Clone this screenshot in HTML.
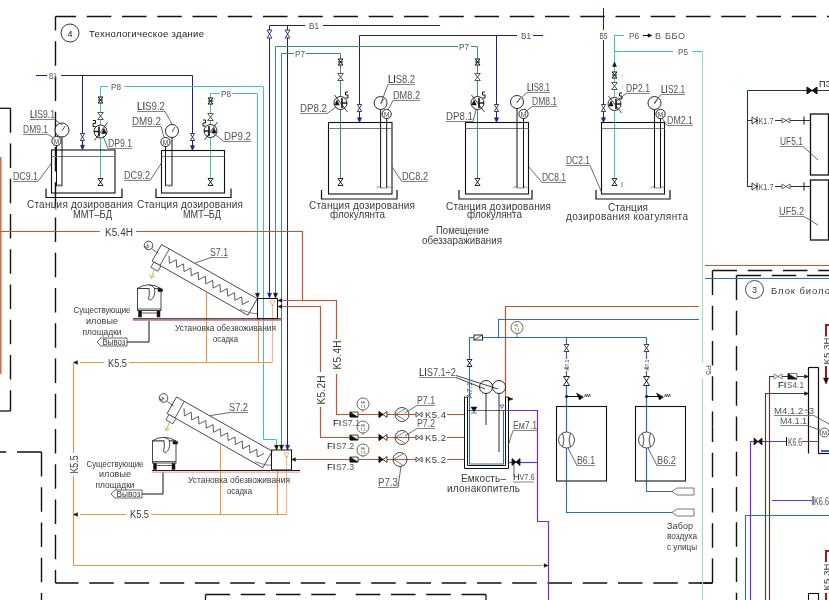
<!DOCTYPE html>
<html><head><meta charset="utf-8"><style>
html,body{margin:0;padding:0;background:#fff;}
svg{display:block;font-family:"Liberation Sans",sans-serif;will-change:transform;}
</style></head><body>
<svg width="829" height="600" viewBox="0 0 829 600">
<rect width="829" height="600" fill="#fff"/>
<line x1="55.5" y1="16.5" x2="829" y2="16.5" stroke="#111" stroke-width="1.4" stroke-dasharray="24.5 10.75" stroke-dashoffset="4"/>
<line x1="55.5" y1="16.5" x2="55.5" y2="583" stroke="#111" stroke-width="1.4" stroke-dasharray="24.5 10.75" stroke-dashoffset="10.4"/>
<line x1="55.5" y1="583" x2="712.5" y2="583" stroke="#111" stroke-width="1.4" stroke-dasharray="24.5 10.75" stroke-dashoffset="1.5"/>
<line x1="700" y1="583" x2="712.5" y2="583" stroke="#111" stroke-width="1.4" />
<line x1="712.5" y1="583" x2="712.5" y2="426.75" stroke="#111" stroke-width="1.4" stroke-dasharray="24.5 10.75" stroke-dashoffset="0"/>
<line x1="712.5" y1="270.5" x2="712.5" y2="426.75" stroke="#111" stroke-width="1.4" stroke-dasharray="24.5 10.75" stroke-dashoffset="0"/>
<line x1="712.5" y1="270.5" x2="829" y2="270.5" stroke="#111" stroke-width="1.4" stroke-dasharray="24.5 10.75" stroke-dashoffset="0"/>
<line x1="736.5" y1="275.5" x2="829" y2="275.5" stroke="#111" stroke-width="1.4" stroke-dasharray="24.5 10.75" stroke-dashoffset="0"/>
<line x1="736.5" y1="275.5" x2="736.5" y2="600" stroke="#111" stroke-width="1.4" stroke-dasharray="24.5 10.75" stroke-dashoffset="0"/>
<line x1="0" y1="108.3" x2="10.5" y2="108.3" stroke="#111" stroke-width="1.3" />
<line x1="10.5" y1="108.3" x2="10.5" y2="411" stroke="#111" stroke-width="1.4" stroke-dasharray="24.5 10.75" stroke-dashoffset="0"/>
<line x1="0" y1="411" x2="10.5" y2="411" stroke="#111" stroke-width="1.3" />
<line x1="41.5" y1="452" x2="0" y2="452" stroke="#111" stroke-width="1.4" stroke-dasharray="24.5 10.75" stroke-dashoffset="0"/>
<line x1="41.5" y1="452" x2="41.5" y2="600" stroke="#111" stroke-width="1.4" stroke-dasharray="24.5 10.75" stroke-dashoffset="0"/>
<line x1="205.5" y1="594.5" x2="345.75" y2="594.5" stroke="#111" stroke-width="1.4" stroke-dasharray="24.5 10.75" stroke-dashoffset="0"/>
<line x1="486" y1="594.5" x2="345.75" y2="594.5" stroke="#111" stroke-width="1.4" stroke-dasharray="24.5 10.75" stroke-dashoffset="0"/>
<line x1="205.5" y1="594.5" x2="205.5" y2="600" stroke="#111" stroke-width="1.3" />
<line x1="486" y1="594.5" x2="486" y2="600" stroke="#111" stroke-width="1.3" />
<circle cx="70" cy="33" r="9" fill="#fff" stroke="#222" stroke-width="0.9"/>
<text x="70" y="36.5" font-size="9" fill="#222" text-anchor="middle" >4</text>
<text x="89" y="37" font-size="9.5" fill="#222" textLength="115" lengthAdjust="spacing" >Технологическое  здание</text>
<line x1="36" y1="75.5" x2="47" y2="75.5" stroke="#1c1c8c" stroke-width="1" />
<text x="49" y="79" font-size="9" fill="#555" textLength="8" lengthAdjust="spacingAndGlyphs" >B1</text>
<line x1="61" y1="75.5" x2="192.5" y2="75.5" stroke="#1c1c8c" stroke-width="1" />
<line x1="82.5" y1="75.5" x2="82.5" y2="147" stroke="#1c1c8c" stroke-width="1" />
<polygon points="80.4,145.2 84.6,145.2 82.5,150" fill="#1c1c8c" stroke="#1c1c8c" stroke-width="0.5" />
<line x1="192.5" y1="75.5" x2="192.5" y2="147" stroke="#1c1c8c" stroke-width="1" />
<polygon points="190.4,145.7 194.6,145.7 192.5,150.5" fill="#1c1c8c" stroke="#1c1c8c" stroke-width="0.5" />
<polygon points="80.3,133.5 84.7,133.5 80.3,140.5 84.7,140.5" fill="#fff" stroke="#2a2a55" stroke-width="0.9" />
<polygon points="190.3,133.5 194.7,133.5 190.3,140.5 194.7,140.5" fill="#fff" stroke="#2a2a55" stroke-width="0.9" />
<line x1="269.5" y1="25.5" x2="305" y2="25.5" stroke="#1c1c8c" stroke-width="1" />
<text x="309" y="29" font-size="9" fill="#555" textLength="10" lengthAdjust="spacingAndGlyphs" >B1</text>
<line x1="323" y1="25.5" x2="440" y2="25.5" stroke="#1c1c8c" stroke-width="1" />
<line x1="269.5" y1="25.5" x2="269.5" y2="294" stroke="#1c1c8c" stroke-width="1" />
<polygon points="267.4,293.2 271.6,293.2 269.5,298" fill="#1c1c8c" stroke="#1c1c8c" stroke-width="0.5" />
<line x1="287.5" y1="25.5" x2="287.5" y2="446" stroke="#1c1c8c" stroke-width="1" />
<polygon points="285.4,445.2 289.6,445.2 287.5,450" fill="#1c1c8c" stroke="#1c1c8c" stroke-width="0.5" />
<polygon points="267,30 272,30 267,38 272,38" fill="#fff" stroke="#2a2a55" stroke-width="0.9" />
<polygon points="285,30 290,30 285,38 290,38" fill="#fff" stroke="#2a2a55" stroke-width="0.9" />
<line x1="359.5" y1="35.5" x2="517" y2="35.5" stroke="#1c1c8c" stroke-width="1" />
<text x="521" y="39" font-size="9" fill="#555" textLength="10" lengthAdjust="spacingAndGlyphs" >B1</text>
<line x1="533" y1="35.5" x2="543" y2="35.5" stroke="#1c1c8c" stroke-width="1" />
<line x1="359.5" y1="35.5" x2="359.5" y2="119" stroke="#1c1c8c" stroke-width="1" />
<polygon points="357.4,117.7 361.6,117.7 359.5,122.5" fill="#1c1c8c" stroke="#1c1c8c" stroke-width="0.5" />
<line x1="496.5" y1="35.5" x2="496.5" y2="119" stroke="#1c1c8c" stroke-width="1" />
<polygon points="494.4,117.7 498.6,117.7 496.5,122.5" fill="#1c1c8c" stroke="#1c1c8c" stroke-width="0.5" />
<polygon points="357.3,104.5 361.7,104.5 357.3,111.5 361.7,111.5" fill="#fff" stroke="#2a2a55" stroke-width="0.9" />
<polygon points="494.3,104.5 498.7,104.5 494.3,111.5 498.7,111.5" fill="#fff" stroke="#2a2a55" stroke-width="0.9" />
<line x1="603.5" y1="8" x2="603.5" y2="119" stroke="#1c1c8c" stroke-width="1" />
<polygon points="601.4,117.7 605.6,117.7 603.5,122.5" fill="#1c1c8c" stroke="#1c1c8c" stroke-width="0.5" />
<polygon points="601.3,104.5 605.7,104.5 601.3,111.5 605.7,111.5" fill="#fff" stroke="#2a2a55" stroke-width="0.9" />
<rect x="599" y="30" width="9" height="10" fill="#fff" stroke="none" stroke-width="0"/>
<text x="603.5" y="39" font-size="8.5" fill="#555" text-anchor="middle" textLength="8" lengthAdjust="spacingAndGlyphs" >B5</text>
<line x1="100.5" y1="86.5" x2="108" y2="86.5" stroke="#3cc8b0" stroke-width="1" />
<text x="111" y="90" font-size="9" fill="#555" textLength="10" lengthAdjust="spacingAndGlyphs" >P8</text>
<line x1="124" y1="86.5" x2="263.5" y2="86.5" stroke="#3cc8b0" stroke-width="1" />
<line x1="263.5" y1="86.5" x2="263.5" y2="439.5" stroke="#3cc8b0" stroke-width="1" />
<polyline points="263.5,439.5 276.5,439.5 276.5,446" fill="none" stroke="#3cc8b0" stroke-width="1" />
<line x1="210.5" y1="93.5" x2="220" y2="93.5" stroke="#3cc8b0" stroke-width="1" />
<text x="221" y="97" font-size="9" fill="#555" textLength="10" lengthAdjust="spacingAndGlyphs" >P8</text>
<line x1="232" y1="93.5" x2="257.5" y2="93.5" stroke="#3cc8b0" stroke-width="1" />
<line x1="257.5" y1="93.5" x2="257.5" y2="294" stroke="#3cc8b0" stroke-width="1" />
<polygon points="255.4,293.2 259.6,293.2 257.5,298" fill="#111" stroke="#111" stroke-width="0.5" />
<polygon points="274.4,445.2 278.6,445.2 276.5,450" fill="#111" stroke="#111" stroke-width="0.5" />
<line x1="100.5" y1="86.5" x2="100.5" y2="182" stroke="#3cc8b0" stroke-width="1" />
<line x1="210.5" y1="93.5" x2="210.5" y2="182" stroke="#3cc8b0" stroke-width="1" />
<line x1="275.5" y1="46.5" x2="458" y2="46.5" stroke="#3a8f74" stroke-width="1" />
<text x="459" y="50" font-size="9" fill="#555" textLength="10" lengthAdjust="spacingAndGlyphs" >P7</text>
<polyline points="471,46.5 477.5,46.5 477.5,182" fill="none" stroke="#3a8f74" stroke-width="1" />
<line x1="281.5" y1="53.5" x2="294" y2="53.5" stroke="#3a8f74" stroke-width="1" />
<text x="295" y="57" font-size="9" fill="#555" textLength="10" lengthAdjust="spacingAndGlyphs" >P7</text>
<polyline points="306,53.5 340.5,53.5 340.5,182" fill="none" stroke="#3a8f74" stroke-width="1" />
<line x1="275.5" y1="46.5" x2="275.5" y2="294" stroke="#3a8f74" stroke-width="1" />
<polygon points="273.4,293.2 277.6,293.2 275.5,298" fill="#111" stroke="#111" stroke-width="0.5" />
<line x1="281.5" y1="53.5" x2="281.5" y2="446" stroke="#3a8f74" stroke-width="1" />
<polygon points="279.4,445.2 283.6,445.2 281.5,450" fill="#111" stroke="#111" stroke-width="0.5" />
<line x1="614.5" y1="35.5" x2="614.5" y2="182" stroke="#40cc90" stroke-width="1" />
<line x1="614.5" y1="35.5" x2="624" y2="35.5" stroke="#40cc90" stroke-width="1" />
<text x="629" y="39" font-size="9" fill="#555" textLength="10" lengthAdjust="spacingAndGlyphs" >P6</text>
<line x1="643" y1="35.5" x2="648" y2="35.5" stroke="#111" stroke-width="1" />
<polygon points="648,33.75 648,37.25 652,35.5" fill="#111" stroke="#111" stroke-width="0.5" />
<text x="655" y="39" font-size="9" fill="#555" textLength="30" lengthAdjust="spacing" >В  ББО</text>
<polygon points="612.54,66.48 616.46,66.48 614.5,62" fill="#111" stroke="#111" stroke-width="0.5" />
<line x1="614.5" y1="51.5" x2="673" y2="51.5" stroke="#40c8a8" stroke-width="1" />
<text x="678" y="55" font-size="9" fill="#555" textLength="10" lengthAdjust="spacingAndGlyphs" >P5</text>
<polyline points="692,51.5 702.5,51.5" fill="none" stroke="#40c8a8" stroke-width="1" />
<line x1="702.5" y1="51.5" x2="702.5" y2="600" stroke="#98e8c0" stroke-width="1.2"/>
<rect x="698" y="362" width="9" height="16" fill="#fff" stroke="none" stroke-width="0"/>
<text x="706" y="370" font-size="8" fill="#555" text-anchor="middle" transform="rotate(90 706 370)" >P5</text>
<rect x="51.5" y="150" width="63.5" height="43" fill="none" stroke="#111" stroke-width="1.1"/>
<line x1="51.5" y1="156.5" x2="115" y2="156.5" stroke="#777" stroke-width="1" />
<polyline points="46,188.5 46,197.5 122,197.5 122,188.5" fill="none" stroke="#111" stroke-width="1.2" />
<rect x="161.5" y="150.5" width="63" height="42.5" fill="none" stroke="#111" stroke-width="1.1"/>
<line x1="161.5" y1="156.5" x2="224.5" y2="156.5" stroke="#777" stroke-width="1" />
<polyline points="156,188.5 156,197.5 231,197.5 231,188.5" fill="none" stroke="#111" stroke-width="1.2" />
<rect x="328.5" y="122.5" width="63.5" height="71.5" fill="none" stroke="#111" stroke-width="1.1"/>
<line x1="328.5" y1="128.5" x2="392" y2="128.5" stroke="#777" stroke-width="1" />
<polyline points="321.5,190 321.5,199 397,199 397,190" fill="none" stroke="#111" stroke-width="1.2" />
<rect x="465.5" y="122.5" width="63" height="71.5" fill="none" stroke="#111" stroke-width="1.1"/>
<line x1="465.5" y1="128.5" x2="528.5" y2="128.5" stroke="#777" stroke-width="1" />
<polyline points="459,190 459,199 532,199 532,190" fill="none" stroke="#111" stroke-width="1.2" />
<rect x="601.5" y="122.5" width="63" height="71.5" fill="none" stroke="#111" stroke-width="1.1"/>
<line x1="601.5" y1="128.5" x2="664.5" y2="128.5" stroke="#777" stroke-width="1" />
<polyline points="596,190 596,199 670,199 670,190" fill="none" stroke="#111" stroke-width="1.2" />
<line x1="62" y1="130" x2="62" y2="186" stroke="#111" stroke-width="1" />
<line x1="56.5" y1="141" x2="56.5" y2="186" stroke="#111" stroke-width="1" />
<circle cx="62" cy="130" r="7" fill="#fff" stroke="#111" stroke-width="0.9"/>
<line x1="62" y1="131" x2="65" y2="126" stroke="#111" stroke-width="0.7" />
<circle cx="56.5" cy="141" r="4.6" fill="#fff" stroke="#111" stroke-width="0.9"/>
<text x="56.5" y="143.6" font-size="6.5" fill="#3a3a3a" text-anchor="middle" >M</text>
<polyline points="58,186 60,184.5 62,186 56.5,186 58.5,184.5 60.5,186" fill="none" stroke="#444" stroke-width="0.6" />
<line x1="172" y1="131" x2="172" y2="186" stroke="#111" stroke-width="1" />
<line x1="165.5" y1="142" x2="165.5" y2="186" stroke="#111" stroke-width="1" />
<circle cx="172" cy="131" r="6.5" fill="#fff" stroke="#111" stroke-width="0.9"/>
<line x1="172" y1="132" x2="175" y2="127" stroke="#111" stroke-width="0.7" />
<circle cx="165.5" cy="142" r="4.6" fill="#fff" stroke="#111" stroke-width="0.9"/>
<text x="165.5" y="144.6" font-size="6.5" fill="#3a3a3a" text-anchor="middle" >M</text>
<polyline points="168,186 170,184.5 172,186 165.5,186 167.5,184.5 169.5,186" fill="none" stroke="#444" stroke-width="0.6" />
<line x1="380.6" y1="103" x2="380.6" y2="188" stroke="#111" stroke-width="1" />
<line x1="386.7" y1="114" x2="386.7" y2="188" stroke="#111" stroke-width="1" />
<circle cx="380.6" cy="103" r="6.5" fill="#fff" stroke="#111" stroke-width="0.9"/>
<line x1="380.6" y1="104" x2="383.6" y2="99" stroke="#111" stroke-width="0.7" />
<circle cx="386.7" cy="114" r="4.6" fill="#fff" stroke="#111" stroke-width="0.9"/>
<text x="386.7" y="116.6" font-size="6.5" fill="#3a3a3a" text-anchor="middle" >M</text>
<polyline points="376.6,188 378.6,186.5 380.6,188 386.7,188 388.7,186.5 390.7,188" fill="none" stroke="#444" stroke-width="0.6" />
<line x1="517" y1="102" x2="517" y2="188" stroke="#111" stroke-width="1" />
<line x1="523.5" y1="114" x2="523.5" y2="188" stroke="#111" stroke-width="1" />
<circle cx="517" cy="102" r="6.5" fill="#fff" stroke="#111" stroke-width="0.9"/>
<line x1="517" y1="103" x2="520" y2="98" stroke="#111" stroke-width="0.7" />
<circle cx="523.5" cy="114" r="4.6" fill="#fff" stroke="#111" stroke-width="0.9"/>
<text x="523.5" y="116.6" font-size="6.5" fill="#3a3a3a" text-anchor="middle" >M</text>
<polyline points="513,188 515,186.5 517,188 523.5,188 525.5,186.5 527.5,188" fill="none" stroke="#444" stroke-width="0.6" />
<line x1="654.5" y1="103" x2="654.5" y2="188" stroke="#111" stroke-width="1" />
<line x1="660.5" y1="114" x2="660.5" y2="188" stroke="#111" stroke-width="1" />
<circle cx="654.5" cy="103" r="6.5" fill="#fff" stroke="#111" stroke-width="0.9"/>
<line x1="654.5" y1="104" x2="657.5" y2="99" stroke="#111" stroke-width="0.7" />
<circle cx="660.5" cy="114" r="4.6" fill="#fff" stroke="#111" stroke-width="0.9"/>
<text x="660.5" y="116.6" font-size="6.5" fill="#3a3a3a" text-anchor="middle" >M</text>
<polyline points="650.5,188 652.5,186.5 654.5,188 660.5,188 662.5,186.5 664.5,188" fill="none" stroke="#444" stroke-width="0.6" />
<polygon points="98,178.5 103,178.5 98,185.5 103,185.5" fill="#fff" stroke="#111" stroke-width="0.9" />
<polygon points="208,178.5 213,178.5 208,185.5 213,185.5" fill="#fff" stroke="#111" stroke-width="0.9" />
<polygon points="338,178.5 343,178.5 338,185.5 343,185.5" fill="#fff" stroke="#111" stroke-width="0.9" />
<polygon points="475,178.5 480,178.5 475,185.5 480,185.5" fill="#fff" stroke="#111" stroke-width="0.9" />
<polygon points="612,178.5 617,178.5 612,185.5 617,185.5" fill="#fff" stroke="#111" stroke-width="0.9" />
<text x="621" y="187" font-size="7" fill="#3c3" font-weight="bold">i</text>
<text x="621.5" y="78" font-size="6" fill="#5c5" >i</text>
<text x="621.5" y="89" font-size="6" fill="#5c5" >i</text>
<circle cx="100.5" cy="131.5" r="6.5" fill="#fff" stroke="#111" stroke-width="0.9"/>
<line x1="99" y1="126.5" x2="99" y2="136.5" stroke="#111" stroke-width="1.6" />
<line x1="99" y1="131.5" x2="94" y2="131.5" stroke="#111" stroke-width="1.4" />
<polygon points="101.7,133.5 106.3,133.5 104,128.5" fill="#111" stroke="#111" stroke-width="0.5" />
<line x1="94.5" y1="140.5" x2="107.5" y2="122.5" stroke="#111" stroke-width="0.8" />
<polyline points="95.5,126.5 93,126.5 93,123.5 95.5,123.5 95.5,120.5 93,120.5" fill="none" stroke="#111" stroke-width="1" />
<circle cx="210.5" cy="131" r="6.5" fill="#fff" stroke="#111" stroke-width="0.9"/>
<line x1="209" y1="126" x2="209" y2="136" stroke="#111" stroke-width="1.6" />
<line x1="209" y1="131" x2="204" y2="131" stroke="#111" stroke-width="1.4" />
<polygon points="211.7,133 216.3,133 214,128" fill="#111" stroke="#111" stroke-width="0.5" />
<line x1="204.5" y1="140" x2="217.5" y2="122" stroke="#111" stroke-width="0.8" />
<polyline points="205.5,126 203,126 203,123 205.5,123 205.5,120 203,120" fill="none" stroke="#111" stroke-width="1" />
<circle cx="340.5" cy="103" r="6.5" fill="#fff" stroke="#111" stroke-width="0.9"/>
<line x1="342" y1="98" x2="342" y2="108" stroke="#111" stroke-width="1.6" />
<line x1="342" y1="103" x2="347" y2="103" stroke="#111" stroke-width="1.4" />
<polygon points="339.3,105 334.7,105 337,100" fill="#111" stroke="#111" stroke-width="0.5" />
<line x1="334.5" y1="95" x2="347.5" y2="112" stroke="#111" stroke-width="0.8" />
<polyline points="345.5,98 348,98 348,95 345.5,95 345.5,92 348,92" fill="none" stroke="#111" stroke-width="1" />
<circle cx="477.5" cy="103" r="6.5" fill="#fff" stroke="#111" stroke-width="0.9"/>
<line x1="479" y1="98" x2="479" y2="108" stroke="#111" stroke-width="1.6" />
<line x1="479" y1="103" x2="484" y2="103" stroke="#111" stroke-width="1.4" />
<polygon points="476.3,105 471.7,105 474,100" fill="#111" stroke="#111" stroke-width="0.5" />
<line x1="471.5" y1="95" x2="484.5" y2="112" stroke="#111" stroke-width="0.8" />
<polyline points="482.5,98 485,98 485,95 482.5,95 482.5,92 485,92" fill="none" stroke="#111" stroke-width="1" />
<circle cx="614.5" cy="104" r="6.5" fill="#fff" stroke="#111" stroke-width="0.9"/>
<line x1="616" y1="99" x2="616" y2="109" stroke="#111" stroke-width="1.6" />
<line x1="616" y1="104" x2="621" y2="104" stroke="#111" stroke-width="1.4" />
<polygon points="613.3,106 608.7,106 611,101" fill="#111" stroke="#111" stroke-width="0.5" />
<line x1="608.5" y1="96" x2="621.5" y2="113" stroke="#111" stroke-width="0.8" />
<polyline points="619.5,99 622,99 622,96 619.5,96 619.5,93 622,93" fill="none" stroke="#111" stroke-width="1" />
<polygon points="98,97 103,97 98,103 103,103" fill="#fff" stroke="#111" stroke-width="1" />
<line x1="98" y1="100" x2="103" y2="100" stroke="#111" stroke-width="1" />
<polygon points="208,98 213,98 208,104 213,104" fill="#fff" stroke="#111" stroke-width="1" />
<line x1="208" y1="101" x2="213" y2="101" stroke="#111" stroke-width="1" />
<polygon points="338,59 343,59 338,65 343,65" fill="#fff" stroke="#111" stroke-width="1" />
<line x1="338" y1="62" x2="343" y2="62" stroke="#111" stroke-width="1" />
<polygon points="475,59 480,59 475,65 480,65" fill="#fff" stroke="#111" stroke-width="1" />
<line x1="475" y1="62" x2="480" y2="62" stroke="#111" stroke-width="1" />
<polygon points="612,72 617,72 612,78 617,78" fill="#fff" stroke="#111" stroke-width="1" />
<line x1="612" y1="75" x2="617" y2="75" stroke="#111" stroke-width="1" />
<polygon points="97.7,112.5 103.3,112.5 97.7,119.5 103.3,119.5" fill="#fff" stroke="#444" stroke-width="0.9" />
<polygon points="207.7,113.5 213.3,113.5 207.7,120.5 213.3,120.5" fill="#fff" stroke="#444" stroke-width="0.9" />
<polygon points="337.7,73.5 343.3,73.5 337.7,80.5 343.3,80.5" fill="#fff" stroke="#444" stroke-width="0.9" />
<polygon points="474.7,73.5 480.3,73.5 474.7,80.5 480.3,80.5" fill="#fff" stroke="#444" stroke-width="0.9" />
<polygon points="611.7,82.5 617.3,82.5 611.7,89.5 617.3,89.5" fill="#fff" stroke="#444" stroke-width="0.9" />
<text x="30" y="117.5" font-size="10" fill="#555" textLength="25" lengthAdjust="spacingAndGlyphs"><tspan fill="#111">LI</tspan>S9.1</text>
<line x1="30" y1="119.5" x2="55" y2="119.5" stroke="#666" stroke-width="0.8" />
<polyline points="55,119.5 62,125" fill="none" stroke="#444" stroke-width="0.8" />
<text x="23" y="132.5" font-size="10" fill="#555" textLength="25" lengthAdjust="spacingAndGlyphs" >DM9.1</text>
<line x1="23" y1="134.5" x2="48" y2="134.5" stroke="#666" stroke-width="0.8" />
<polyline points="48,134.5 54,138" fill="none" stroke="#444" stroke-width="0.8" />
<text x="13" y="179.5" font-size="10" fill="#555" textLength="25" lengthAdjust="spacingAndGlyphs" >DC9.1</text>
<line x1="13" y1="181.5" x2="38" y2="181.5" stroke="#666" stroke-width="0.8" />
<polyline points="38,181.5 51.5,163" fill="none" stroke="#444" stroke-width="0.8" />
<text x="108" y="146.5" font-size="10" fill="#555" textLength="24" lengthAdjust="spacingAndGlyphs" >DP9.1</text>
<line x1="108" y1="148.5" x2="132" y2="148.5" stroke="#666" stroke-width="0.8" />
<polyline points="108,148.5 103,136" fill="none" stroke="#444" stroke-width="0.8" />
<text x="137" y="109.5" font-size="10" fill="#555" textLength="28" lengthAdjust="spacingAndGlyphs"><tspan fill="#111">LI</tspan>S9.2</text>
<line x1="137" y1="111.5" x2="165" y2="111.5" stroke="#666" stroke-width="0.8" />
<polyline points="165,111.5 172,124" fill="none" stroke="#444" stroke-width="0.8" />
<text x="132" y="124.5" font-size="10" fill="#555" textLength="29" lengthAdjust="spacingAndGlyphs" >DM9.2</text>
<line x1="132" y1="126.5" x2="161" y2="126.5" stroke="#666" stroke-width="0.8" />
<polyline points="161,126.5 164,137" fill="none" stroke="#444" stroke-width="0.8" />
<text x="124" y="178.5" font-size="10" fill="#555" textLength="26" lengthAdjust="spacingAndGlyphs" >DC9.2</text>
<line x1="124" y1="180.5" x2="150" y2="180.5" stroke="#666" stroke-width="0.8" />
<polyline points="150,180.5 161.5,163" fill="none" stroke="#444" stroke-width="0.8" />
<text x="224" y="139.5" font-size="10" fill="#555" textLength="27" lengthAdjust="spacingAndGlyphs" >DP9.2</text>
<line x1="224" y1="141.5" x2="251" y2="141.5" stroke="#666" stroke-width="0.8" />
<polyline points="224,141.5 213,133" fill="none" stroke="#444" stroke-width="0.8" />
<text x="388" y="82.5" font-size="10" fill="#555" textLength="27" lengthAdjust="spacingAndGlyphs"><tspan fill="#111">LI</tspan>S8.2</text>
<line x1="388" y1="84.5" x2="415" y2="84.5" stroke="#666" stroke-width="0.8" />
<polyline points="388,84.5 381,103" fill="none" stroke="#444" stroke-width="0.8" />
<text x="393" y="98.5" font-size="10" fill="#555" textLength="27" lengthAdjust="spacingAndGlyphs" >DM8.2</text>
<line x1="393" y1="100.5" x2="420" y2="100.5" stroke="#666" stroke-width="0.8" />
<polyline points="393,100.5 388,110" fill="none" stroke="#444" stroke-width="0.8" />
<text x="300" y="111.5" font-size="10" fill="#555" textLength="27" lengthAdjust="spacingAndGlyphs" >DP8.2</text>
<line x1="300" y1="113.5" x2="327" y2="113.5" stroke="#666" stroke-width="0.8" />
<polyline points="327,113.5 336,107" fill="none" stroke="#444" stroke-width="0.8" />
<text x="402" y="179.5" font-size="10" fill="#555" textLength="26" lengthAdjust="spacingAndGlyphs" >DC8.2</text>
<line x1="402" y1="181.5" x2="428" y2="181.5" stroke="#666" stroke-width="0.8" />
<polyline points="402,181.5 392,167" fill="none" stroke="#444" stroke-width="0.8" />
<text x="527" y="90.5" font-size="10" fill="#555" textLength="23" lengthAdjust="spacingAndGlyphs"><tspan fill="#111">LI</tspan>S8.1</text>
<line x1="527" y1="92.5" x2="550" y2="92.5" stroke="#666" stroke-width="0.8" />
<polyline points="527,92.5 517,102" fill="none" stroke="#444" stroke-width="0.8" />
<text x="532" y="104.5" font-size="10" fill="#555" textLength="25" lengthAdjust="spacingAndGlyphs" >DM8.1</text>
<line x1="532" y1="106.5" x2="557" y2="106.5" stroke="#666" stroke-width="0.8" />
<polyline points="532,106.5 525,112" fill="none" stroke="#444" stroke-width="0.8" />
<text x="446" y="119.5" font-size="10" fill="#555" textLength="27" lengthAdjust="spacingAndGlyphs" >DP8.1</text>
<line x1="446" y1="121.5" x2="473" y2="121.5" stroke="#666" stroke-width="0.8" />
<polyline points="473,121.5 476,110" fill="none" stroke="#444" stroke-width="0.8" />
<text x="542" y="180.5" font-size="10" fill="#555" textLength="24" lengthAdjust="spacingAndGlyphs" >DC8.1</text>
<line x1="542" y1="182.5" x2="566" y2="182.5" stroke="#666" stroke-width="0.8" />
<polyline points="542,182.5 529,167" fill="none" stroke="#444" stroke-width="0.8" />
<text x="626" y="91.5" font-size="10" fill="#555" textLength="24" lengthAdjust="spacingAndGlyphs" >DP2.1</text>
<line x1="626" y1="93.5" x2="650" y2="93.5" stroke="#666" stroke-width="0.8" />
<polyline points="626,93.5 617,101" fill="none" stroke="#444" stroke-width="0.8" />
<text x="661" y="92.5" font-size="10" fill="#555" textLength="24" lengthAdjust="spacingAndGlyphs"><tspan fill="#111">LI</tspan>S2.1</text>
<line x1="661" y1="94.5" x2="685" y2="94.5" stroke="#666" stroke-width="0.8" />
<polyline points="661,94.5 654,103" fill="none" stroke="#444" stroke-width="0.8" />
<text x="667" y="123.5" font-size="10" fill="#555" textLength="26" lengthAdjust="spacingAndGlyphs" >DM2.1</text>
<line x1="667" y1="125.5" x2="693" y2="125.5" stroke="#666" stroke-width="0.8" />
<polyline points="667,125.5 662,118" fill="none" stroke="#444" stroke-width="0.8" />
<text x="566" y="163.5" font-size="10" fill="#555" textLength="24" lengthAdjust="spacingAndGlyphs" >DC2.1</text>
<line x1="566" y1="165.5" x2="590" y2="165.5" stroke="#666" stroke-width="0.8" />
<polyline points="590,165.5 601.5,192" fill="none" stroke="#444" stroke-width="0.8" />
<text x="27" y="208" font-size="10" fill="#3a3a3a" textLength="106" lengthAdjust="spacing" >Станция  дозирования</text>
<text x="73" y="218" font-size="10" fill="#3a3a3a" textLength="39" lengthAdjust="spacingAndGlyphs" >ММТ–БД</text>
<text x="137" y="208" font-size="10" fill="#3a3a3a" textLength="106" lengthAdjust="spacing" >Станция  дозирования</text>
<text x="183" y="218" font-size="10" fill="#3a3a3a" textLength="38" lengthAdjust="spacingAndGlyphs" >ММТ–БД</text>
<text x="309" y="209" font-size="10" fill="#3a3a3a" textLength="106" lengthAdjust="spacing" >Станция  дозирования</text>
<text x="330" y="218" font-size="10" fill="#3a3a3a" textLength="55" lengthAdjust="spacingAndGlyphs" >флокулянта</text>
<text x="446" y="210" font-size="10" fill="#3a3a3a" textLength="105" lengthAdjust="spacing" >Станция  дозирования</text>
<text x="467" y="218" font-size="10" fill="#3a3a3a" textLength="55" lengthAdjust="spacingAndGlyphs" >флокулянта</text>
<text x="608" y="211" font-size="10" fill="#3a3a3a" textLength="40" lengthAdjust="spacing" >Станция</text>
<text x="566" y="220" font-size="10" fill="#3a3a3a" textLength="122" lengthAdjust="spacing" >дозирования  коагулянта</text>
<text x="436" y="233.5" font-size="10" fill="#3a3a3a" textLength="53" lengthAdjust="spacingAndGlyphs" >Помещение</text>
<text x="422" y="244" font-size="10" fill="#3a3a3a" textLength="80" lengthAdjust="spacingAndGlyphs" >обеззараживания</text>
<line x1="747.5" y1="90.5" x2="829" y2="90.5" stroke="#1e3a30" stroke-width="1.1" />
<polyline points="747.5,90.5 747.5,186.5 810.5,186.5" fill="none" stroke="#1e3a30" stroke-width="1.1" />
<line x1="747.5" y1="120.5" x2="810.5" y2="120.5" stroke="#1e3a30" stroke-width="1.1" />
<polygon points="807,87 807,94 817,87 817,94" fill="#111" stroke="#111" stroke-width="1" />
<text x="819" y="87" font-size="9" fill="#111" >ПЭ</text>
<polygon points="752,117 752,124 757,120.5" fill="#fff" stroke="#111" stroke-width="0.8" />
<line x1="757" y1="116.5" x2="757" y2="124.5" stroke="#111" stroke-width="0.9" />
<rect x="758" y="115.5" width="17" height="10" fill="#fff" stroke="none" stroke-width="0"/>
<text x="758.5" y="124" font-size="9" fill="#555" textLength="15" lengthAdjust="spacingAndGlyphs" >K1.7</text>
<polygon points="782,118 782,123 790,118 790,123" fill="#fff" stroke="#444" stroke-width="0.8" />
<line x1="804" y1="116.5" x2="804" y2="124.5" stroke="#111" stroke-width="1" />
<polygon points="752,183 752,190 757,186.5" fill="#fff" stroke="#111" stroke-width="0.8" />
<line x1="757" y1="182.5" x2="757" y2="190.5" stroke="#111" stroke-width="0.9" />
<rect x="758" y="181.5" width="17" height="10" fill="#fff" stroke="none" stroke-width="0"/>
<text x="758.5" y="190" font-size="9" fill="#555" textLength="15" lengthAdjust="spacingAndGlyphs" >K1.7</text>
<polygon points="782,184 782,189 790,184 790,189" fill="#fff" stroke="#444" stroke-width="0.8" />
<line x1="804" y1="182.5" x2="804" y2="190.5" stroke="#111" stroke-width="1" />
<rect x="810.5" y="114" width="18" height="61" fill="none" stroke="#111" stroke-width="1.3"/>
<rect x="810.5" y="180" width="18" height="60" fill="none" stroke="#111" stroke-width="1.3"/>
<text x="780" y="144.5" font-size="10" fill="#555" textLength="23" lengthAdjust="spacingAndGlyphs" >UF5.1</text>
<line x1="780" y1="146.5" x2="803" y2="146.5" stroke="#666" stroke-width="0.8" />
<polyline points="803,146.5 818,160" fill="none" stroke="#444" stroke-width="0.8" />
<text x="779" y="214.5" font-size="10" fill="#555" textLength="25" lengthAdjust="spacingAndGlyphs" >UF5.2</text>
<line x1="779" y1="216.5" x2="804" y2="216.5" stroke="#666" stroke-width="0.8" />
<polyline points="804,216.5 818,225" fill="none" stroke="#444" stroke-width="0.8" />
<line x1="0.8" y1="157" x2="0.8" y2="374" stroke="#c8552a" stroke-width="1.3" />
<line x1="0" y1="231.5" x2="100" y2="231.5" stroke="#c8552a" stroke-width="1.2" />
<text x="105" y="235.5" font-size="10" fill="#3a3a3a" textLength="28" lengthAdjust="spacing" >K5.4H</text>
<polyline points="136,231.5 302.5,231.5 302.5,300.5" fill="none" stroke="#c8552a" stroke-width="1.2" />
<polyline points="283,300.5 336.5,300.5 336.5,339" fill="none" stroke="#c8552a" stroke-width="1.2" />
<polygon points="282,298.75 282,302.25 278,300.5" fill="#111" stroke="#111" stroke-width="0.5" />
<text x="340.5" y="355" font-size="10" fill="#3a3a3a" text-anchor="middle" textLength="29" lengthAdjust="spacing" transform="rotate(-90 340.5 355)" >K5.4H</text>
<polyline points="336.5,374 336.5,414.5 465,414.5" fill="none" stroke="#c8552a" stroke-width="1.2" />
<polyline points="283,306.5 320.5,306.5 320.5,372" fill="none" stroke="#c8552a" stroke-width="1.2" />
<polygon points="282,304.75 282,308.25 278,306.5" fill="#111" stroke="#111" stroke-width="0.5" />
<text x="324.5" y="390" font-size="10" fill="#3a3a3a" text-anchor="middle" textLength="29" lengthAdjust="spacing" transform="rotate(-90 324.5 390)" >K5.2H</text>
<polyline points="320.5,407 320.5,437.5 465,437.5" fill="none" stroke="#c8552a" stroke-width="1.2" />
<line x1="296" y1="459.5" x2="465" y2="459.5" stroke="#c8552a" stroke-width="1.2" />
<polygon points="295.5,457.75 295.5,461.25 291.5,459.5" fill="#111" stroke="#111" stroke-width="0.5" />
<line x1="705" y1="265.5" x2="829" y2="265.5" stroke="#c8552a" stroke-width="1.2" />
<polyline points="505.5,398 505.5,306.5 699,306.5" fill="none" stroke="#c8552a" stroke-width="1.2" />
<polyline points="80,362.5 272,362.5" fill="none" stroke="#e49a48" stroke-width="1.2" />
<polygon points="77.5,360.75 77.5,364.25 73.5,362.5" fill="#111" stroke="#111" stroke-width="0.5" />
<rect x="104" y="356" width="25" height="12" fill="#fff" stroke="none" stroke-width="0"/>
<text x="108" y="366.5" font-size="10" fill="#3a3a3a" textLength="19" lengthAdjust="spacingAndGlyphs" >K5.5</text>
<line x1="206.5" y1="292" x2="206.5" y2="362.5" stroke="#e49a48" stroke-width="1.2" />
<line x1="258.5" y1="318" x2="258.5" y2="362.5" stroke="#e49a48" stroke-width="1.2" />
<line x1="272.5" y1="304" x2="272.5" y2="362.5" stroke="#f0b89a" stroke-width="1.2" />
<polygon points="270,301 275,301 272.5,306" fill="none" stroke="#e49a48" stroke-width="0.7" />
<polyline points="73.5,362.5 73.5,565.5 542,565.5" fill="none" stroke="#e49a48" stroke-width="1.2" />
<polygon points="544,563.75 544,567.25 548,565.5" fill="#111" stroke="#111" stroke-width="0.5" />
<rect x="68" y="453" width="11" height="23" fill="#fff" stroke="none" stroke-width="0"/>
<text x="77.5" y="464.5" font-size="10" fill="#3a3a3a" text-anchor="middle" textLength="18" lengthAdjust="spacingAndGlyphs" transform="rotate(-90 77.5 464.5)" >K5.5</text>
<polyline points="80,514.5 286.5,514.5" fill="none" stroke="#e49a48" stroke-width="1.2" />
<polygon points="77.5,512.75 77.5,516.25 73.5,514.5" fill="#111" stroke="#111" stroke-width="0.5" />
<rect x="126" y="508" width="25" height="12" fill="#fff" stroke="none" stroke-width="0"/>
<text x="130" y="518" font-size="10" fill="#3a3a3a" textLength="19" lengthAdjust="spacingAndGlyphs" >K5.5</text>
<line x1="220.5" y1="445" x2="220.5" y2="514.5" stroke="#e49a48" stroke-width="1.2" />
<line x1="277.5" y1="470" x2="277.5" y2="514.5" stroke="#e49a48" stroke-width="1.2" />
<line x1="286.5" y1="456" x2="286.5" y2="514.5" stroke="#f0b89a" stroke-width="1.2" />
<polygon points="284,453 289,453 286.5,458" fill="none" stroke="#e49a48" stroke-width="0.7" />
<polygon points="161.5,244.5 257.24,298.67 247.88,315.2 152.14,261.04" fill="#fff" stroke="#333" stroke-width="0.9" />
<polyline points="168.99,255.63 169.43,263.35 176.27,259.75 176.71,267.47 183.55,263.87 183.99,271.58 190.83,267.99 191.27,275.7 198.11,272.11 198.55,279.82 205.39,276.22 205.83,283.94 212.67,280.34 213.1,288.06 219.95,284.46 220.38,292.18 227.22,288.58 227.66,296.3 234.5,292.7 234.94,300.41 241.78,296.82 242.22,304.53 249.06,300.93" fill="none" stroke="#333" stroke-width="0.8" />
<line x1="169.33" y1="248.93" x2="159.98" y2="265.47" stroke="#333" stroke-width="0.8" />
<polygon points="153.88,262.02 160.85,265.96 157.89,271.18 150.93,267.24" fill="#fff" stroke="#333" stroke-width="0.8" />
<polyline points="154.41,269.21 151.41,278.21" fill="none" stroke="#9b4" stroke-width="0.9" />
<polyline points="149.41,274.21 151.41,278.21 155.41,275.21" fill="none" stroke="#9b4" stroke-width="0.8" />
<circle cx="148.5" cy="245.5" r="4.3" fill="#fff" stroke="#3a3a3a" stroke-width="0.9"/>
<text x="148.5" y="247.8" font-size="5.5" fill="#3a3a3a" text-anchor="middle" transform="rotate(-45 148.5 247.8)" >M</text>
<line x1="151.5" y1="248.5" x2="158.5" y2="253.5" stroke="#333" stroke-width="0.8" />
<rect x="257.5" y="298.5" width="20" height="20" fill="none" stroke="#111" stroke-width="1"/>
<path d="M239.88 309.2 Q 253.5 314.5 257.5 313.5" fill="none" stroke="#444" stroke-width="0.7"/>
<line x1="133" y1="318.9" x2="281" y2="318.9" stroke="#3a1010" stroke-width="1.2" />
<line x1="133" y1="320.5" x2="281" y2="320.5" stroke="#d89090" stroke-width="1" />
<text x="210" y="255.5" font-size="10" fill="#555" textLength="18" lengthAdjust="spacingAndGlyphs" >S7.1</text>
<line x1="210" y1="257.5" x2="228" y2="257.5" stroke="#666" stroke-width="0.8" />
<polyline points="211,257.5 194.57,263.21" fill="none" stroke="#444" stroke-width="0.8" />
<text x="175" y="330.5" font-size="9.5" fill="#3a3a3a" textLength="101" lengthAdjust="spacingAndGlyphs" >Установка  обезвоживания</text>
<text x="213" y="341.5" font-size="9.5" fill="#3a3a3a" textLength="25" lengthAdjust="spacingAndGlyphs" >осадка</text>
<path d="M137 288.5 Q 149 281 161 288.5 Z" fill="#fff" stroke="#333" stroke-width="0.9"/>
<rect x="137.5" y="288.5" width="23.5" height="22" fill="#fff" stroke="#333" stroke-width="0.9"/>
<rect x="158" y="289" width="4.5" height="2.5" fill="#111" stroke="#111" stroke-width="0.5"/>
<path d="M149 285 Q 157 286 154 296 Q 151 302 148.5 299 Q 150 295 149 288" fill="#fff" stroke="#333" stroke-width="0.9"/>
<line x1="138" y1="309" x2="161" y2="309" stroke="#333" stroke-width="0.8" />
<rect x="138.5" y="311" width="3" height="6" fill="#111" stroke="#111" stroke-width="0.5"/>
<rect x="157" y="311" width="3" height="6" fill="#111" stroke="#111" stroke-width="0.5"/>
<line x1="141" y1="313" x2="157" y2="313" stroke="#333" stroke-width="0.8" />
<text x="102" y="312.5" font-size="9" fill="#3a3a3a" text-anchor="middle" textLength="57" lengthAdjust="spacingAndGlyphs" >Существующие</text>
<text x="102" y="323.5" font-size="9" fill="#3a3a3a" text-anchor="middle" textLength="32" lengthAdjust="spacing" >иловые</text>
<text x="102" y="334.5" font-size="9" fill="#3a3a3a" text-anchor="middle" textLength="39" lengthAdjust="spacingAndGlyphs" >площадки</text>
<polygon points="97,342 101,338 127,338 127,346 101,346" fill="#fff" stroke="#444" stroke-width="0.8" />
<text x="102.5" y="345.3" font-size="9" fill="#3a3a3a" textLength="23" lengthAdjust="spacingAndGlyphs" >Вывоз</text>
<polyline points="127,342 149,342 149,321" fill="none" stroke="#111" stroke-width="1" />
<polygon points="176.5,397 272.24,451.17 262.88,467.7 167.14,413.54" fill="#fff" stroke="#333" stroke-width="0.9" />
<polyline points="183.99,408.13 184.43,415.85 191.27,412.25 191.71,419.97 198.55,416.37 198.99,424.08 205.83,420.49 206.27,428.2 213.11,424.61 213.55,432.32 220.39,428.72 220.83,436.44 227.67,432.84 228.1,440.56 234.95,436.96 235.38,444.68 242.22,441.08 242.66,448.8 249.5,445.2 249.94,452.91 256.78,449.32 257.22,457.03 264.06,453.43" fill="none" stroke="#333" stroke-width="0.8" />
<line x1="184.33" y1="401.43" x2="174.98" y2="417.97" stroke="#333" stroke-width="0.8" />
<polygon points="168.88,414.52 175.85,418.46 172.89,423.68 165.93,419.74" fill="#fff" stroke="#333" stroke-width="0.8" />
<polyline points="169.41,421.71 166.41,430.71" fill="none" stroke="#9b4" stroke-width="0.9" />
<polyline points="164.41,426.71 166.41,430.71 170.41,427.71" fill="none" stroke="#9b4" stroke-width="0.8" />
<circle cx="163.5" cy="398" r="4.3" fill="#fff" stroke="#3a3a3a" stroke-width="0.9"/>
<text x="163.5" y="400.3" font-size="5.5" fill="#3a3a3a" text-anchor="middle" transform="rotate(-45 163.5 400.3)" >M</text>
<line x1="166.5" y1="401" x2="173.5" y2="406" stroke="#333" stroke-width="0.8" />
<rect x="271.5" y="450" width="20" height="20" fill="none" stroke="#111" stroke-width="1"/>
<path d="M254.88 461.7 Q 267.5 466 271.5 465" fill="none" stroke="#444" stroke-width="0.7"/>
<line x1="152" y1="470.5" x2="300" y2="470.5" stroke="#3a1010" stroke-width="1.2" />
<line x1="152" y1="472.1" x2="300" y2="472.1" stroke="#d89090" stroke-width="1" />
<text x="229" y="410.5" font-size="10" fill="#555" textLength="19" lengthAdjust="spacingAndGlyphs" >S7.2</text>
<line x1="229" y1="412.5" x2="248" y2="412.5" stroke="#666" stroke-width="0.8" />
<polyline points="230,412.5 209.57,415.71" fill="none" stroke="#444" stroke-width="0.8" />
<text x="188" y="482.5" font-size="9.5" fill="#3a3a3a" textLength="102" lengthAdjust="spacingAndGlyphs" >Установка  обезвоживания</text>
<text x="227" y="493.5" font-size="9.5" fill="#3a3a3a" textLength="25" lengthAdjust="spacingAndGlyphs" >осадка</text>
<path d="M152 441 Q 164 433.5 176 441 Z" fill="#fff" stroke="#333" stroke-width="0.9"/>
<rect x="152.5" y="441" width="23.5" height="22" fill="#fff" stroke="#333" stroke-width="0.9"/>
<rect x="173" y="441.5" width="4.5" height="2.5" fill="#111" stroke="#111" stroke-width="0.5"/>
<path d="M164 437.5 Q 172 438.5 169 448.5 Q 166 454.5 163.5 451.5 Q 165 447.5 164 440.5" fill="#fff" stroke="#333" stroke-width="0.9"/>
<line x1="153" y1="461.5" x2="176" y2="461.5" stroke="#333" stroke-width="0.8" />
<rect x="153.5" y="463.5" width="3" height="6" fill="#111" stroke="#111" stroke-width="0.5"/>
<rect x="172" y="463.5" width="3" height="6" fill="#111" stroke="#111" stroke-width="0.5"/>
<line x1="156" y1="465.5" x2="172" y2="465.5" stroke="#333" stroke-width="0.8" />
<text x="115" y="466.5" font-size="9" fill="#3a3a3a" text-anchor="middle" textLength="57" lengthAdjust="spacingAndGlyphs" >Существующие</text>
<text x="115" y="476.5" font-size="9" fill="#3a3a3a" text-anchor="middle" textLength="32" lengthAdjust="spacing" >иловые</text>
<text x="115" y="487.5" font-size="9" fill="#3a3a3a" text-anchor="middle" textLength="39" lengthAdjust="spacingAndGlyphs" >площадки</text>
<polygon points="111,494 115,490 142,490 142,498 115,498" fill="#fff" stroke="#444" stroke-width="0.8" />
<text x="116.5" y="497.3" font-size="9" fill="#3a3a3a" textLength="24" lengthAdjust="spacingAndGlyphs" >Вывоз</text>
<polyline points="142,494 163,494 163,472.5" fill="none" stroke="#111" stroke-width="1" />
<polygon points="350,412 358,412 358,417 350,417" fill="#fff" stroke="#111" stroke-width="0.8" />
<polygon points="350,412 358,417 350,417" fill="#111" stroke="#111" stroke-width="0.5" />
<line x1="363" y1="412" x2="363" y2="410" stroke="#444" stroke-width="0.7" />
<circle cx="363" cy="404" r="6" fill="#fff" stroke="#444" stroke-width="0.8"/>
<text x="363" y="403.5" font-size="3.5" fill="#444" text-anchor="middle" >FE</text>
<text x="363" y="407.5" font-size="3.5" fill="#444" text-anchor="middle" >7.1</text>
<polygon points="379,411.5 379,417.5 387,411.5 387,417.5" fill="#fff" stroke="#111" stroke-width="0.8" />
<polygon points="379,411.5 379,417.5 383,414.5" fill="#111" stroke="#111" stroke-width="0.5" />
<circle cx="402" cy="414.5" r="7" fill="none" stroke="#333" stroke-width="0.9"/>
<polyline points="405.5,408.5 395.5,414.5 405.5,420.5" fill="none" stroke="#444" stroke-width="0.7" />
<polygon points="416,412 416,417 422,412 422,417" fill="#fff" stroke="#333" stroke-width="0.8" />
<rect x="423" y="409.5" width="24" height="10" fill="#fff" stroke="none" stroke-width="0"/>
<text x="425" y="418" font-size="9.5" fill="#3a3a3a" textLength="21" lengthAdjust="spacing" >K5.4</text>
<polygon points="350,435 358,435 358,440 350,440" fill="#fff" stroke="#111" stroke-width="0.8" />
<polygon points="350,435 358,440 350,440" fill="#111" stroke="#111" stroke-width="0.5" />
<line x1="363" y1="435" x2="363" y2="433" stroke="#444" stroke-width="0.7" />
<circle cx="363" cy="427" r="6" fill="#fff" stroke="#444" stroke-width="0.8"/>
<text x="363" y="426.5" font-size="3.5" fill="#444" text-anchor="middle" >FE</text>
<text x="363" y="430.5" font-size="3.5" fill="#444" text-anchor="middle" >7.2</text>
<polygon points="379,434.5 379,440.5 387,434.5 387,440.5" fill="#fff" stroke="#111" stroke-width="0.8" />
<polygon points="379,434.5 379,440.5 383,437.5" fill="#111" stroke="#111" stroke-width="0.5" />
<circle cx="402" cy="437.5" r="7" fill="none" stroke="#333" stroke-width="0.9"/>
<polyline points="405.5,431.5 395.5,437.5 405.5,443.5" fill="none" stroke="#444" stroke-width="0.7" />
<polygon points="416,435 416,440 422,435 422,440" fill="#fff" stroke="#333" stroke-width="0.8" />
<rect x="423" y="432.5" width="24" height="10" fill="#fff" stroke="none" stroke-width="0"/>
<text x="425" y="441" font-size="9.5" fill="#3a3a3a" textLength="21" lengthAdjust="spacing" >K5.2</text>
<polygon points="350,457 358,457 358,462 350,462" fill="#fff" stroke="#111" stroke-width="0.8" />
<polygon points="350,457 358,462 350,462" fill="#111" stroke="#111" stroke-width="0.5" />
<line x1="363" y1="457" x2="363" y2="456" stroke="#444" stroke-width="0.7" />
<circle cx="363" cy="450" r="6" fill="#fff" stroke="#444" stroke-width="0.8"/>
<text x="363" y="449.5" font-size="3.5" fill="#444" text-anchor="middle" >FE</text>
<text x="363" y="453.5" font-size="3.5" fill="#444" text-anchor="middle" >7.3</text>
<polygon points="379,456.5 379,462.5 387,456.5 387,462.5" fill="#fff" stroke="#111" stroke-width="0.8" />
<polygon points="379,456.5 379,462.5 383,459.5" fill="#111" stroke="#111" stroke-width="0.5" />
<circle cx="400" cy="459.5" r="7" fill="none" stroke="#333" stroke-width="0.9"/>
<polyline points="403.5,453.5 393.5,459.5 403.5,465.5" fill="none" stroke="#444" stroke-width="0.7" />
<polygon points="416,457 416,462 422,457 422,462" fill="#fff" stroke="#333" stroke-width="0.8" />
<rect x="423" y="454.5" width="24" height="10" fill="#fff" stroke="none" stroke-width="0"/>
<text x="425" y="463" font-size="9.5" fill="#3a3a3a" textLength="21" lengthAdjust="spacing" >K5.2</text>
<text x="417" y="403.5" font-size="10" fill="#555" textLength="18" lengthAdjust="spacingAndGlyphs" >P7.1</text>
<line x1="417" y1="405.5" x2="435" y2="405.5" stroke="#666" stroke-width="0.8" />
<polyline points="417,405.5 405,413" fill="none" stroke="#444" stroke-width="0.8" />
<text x="417" y="426.5" font-size="10" fill="#555" textLength="18" lengthAdjust="spacingAndGlyphs" >P7.2</text>
<line x1="417" y1="428.5" x2="435" y2="428.5" stroke="#666" stroke-width="0.8" />
<polyline points="417,428.5 405,436" fill="none" stroke="#444" stroke-width="0.8" />
<text x="378" y="485.5" font-size="10" fill="#555" textLength="20" lengthAdjust="spacingAndGlyphs" >P7.3</text>
<line x1="378" y1="487.5" x2="398" y2="487.5" stroke="#666" stroke-width="0.8" />
<polyline points="398,487.5 401,466" fill="none" stroke="#444" stroke-width="0.8" />
<text x="333" y="426" font-size="9.5" fill="#111" >FI</text>
<text x="342" y="426" font-size="9.5" fill="#555" textLength="18" lengthAdjust="spacingAndGlyphs" >S7.1</text>
<text x="327" y="449" font-size="9.5" fill="#111" >FI</text>
<text x="336" y="449" font-size="9.5" fill="#555" textLength="18" lengthAdjust="spacingAndGlyphs" >S7.2</text>
<text x="327" y="470" font-size="9.5" fill="#111" >FI</text>
<text x="336" y="470" font-size="9.5" fill="#555" textLength="18" lengthAdjust="spacingAndGlyphs" >S7.3</text>
<polyline points="464.5,397 464.5,468.5 508.5,468.5 508.5,397" fill="none" stroke="#111" stroke-width="1" />
<polyline points="467.5,397 467.5,465.5 505.5,465.5 505.5,397" fill="none" stroke="#111" stroke-width="1" />
<line x1="464.5" y1="397" x2="467.5" y2="397" stroke="#111" stroke-width="0.9" />
<line x1="505.5" y1="397" x2="508.5" y2="397" stroke="#111" stroke-width="0.9" />
<polyline points="469.5,410 469.5,464 503.5,464 503.5,410" fill="none" stroke="#2a6cc0" stroke-width="1.1" />
<line x1="467.5" y1="410.5" x2="508" y2="410.5" stroke="#444" stroke-width="0.8" />
<polygon points="471,407 477,407 474,412" fill="#111" stroke="#111" stroke-width="0.5" />
<line x1="471" y1="413" x2="477" y2="413" stroke="#111" stroke-width="0.6" />
<polygon points="500,405 504,405 502,408.5" fill="none" stroke="#7a2ec8" stroke-width="0.8" />
<line x1="486" y1="387" x2="486" y2="425" stroke="#111" stroke-width="0.9" />
<line x1="499" y1="387" x2="499" y2="452" stroke="#111" stroke-width="0.9" />
<circle cx="486" cy="387" r="6.5" fill="#fff" stroke="#111" stroke-width="0.9"/>
<circle cx="499" cy="387" r="6.5" fill="#fff" stroke="#111" stroke-width="0.9"/>
<polygon points="508,397 513,399 508,401" fill="#111" stroke="#111" stroke-width="0.5" />
<text x="419" y="375.5" font-size="10" fill="#555" textLength="37" lengthAdjust="spacingAndGlyphs"><tspan fill="#111">LI</tspan>S7.1÷2</text>
<line x1="419" y1="377.5" x2="456" y2="377.5" stroke="#666" stroke-width="0.8" />
<polyline points="456,377.5 485,389" fill="none" stroke="#111" stroke-width="0.8" />
<polyline points="456,375.5 498,389" fill="none" stroke="#111" stroke-width="0.8" />
<text x="472" y="390" font-size="8" fill="#555" text-anchor="middle" transform="rotate(-90 472 390)" >A7.1</text>
<text x="513" y="428.5" font-size="10" fill="#555" textLength="24" lengthAdjust="spacingAndGlyphs" >Eм7.1</text>
<line x1="513" y1="430.5" x2="537" y2="430.5" stroke="#666" stroke-width="0.8" />
<polyline points="513,430.5 508,446" fill="none" stroke="#444" stroke-width="0.8" />
<text x="461" y="481.5" font-size="10" fill="#3a3a3a" textLength="45" lengthAdjust="spacing" >Емкость–</text>
<text x="447" y="492" font-size="10" fill="#3a3a3a" textLength="73" lengthAdjust="spacing" >илонакопитель</text>
<text x="513" y="480" font-size="9" fill="#111" >H</text>
<text x="519.5" y="480" font-size="9" fill="#555" textLength="15" lengthAdjust="spacingAndGlyphs" >V7.6</text>
<line x1="513" y1="482" x2="534" y2="482" stroke="#666" stroke-width="0.8" />
<line x1="514" y1="462" x2="514" y2="476" stroke="#444" stroke-width="0.8" />
<polyline points="508,410.5 537.5,410.5 537.5,521.5 548.5,521.5 548.5,600" fill="none" stroke="#7a2ec8" stroke-width="1.2" />
<line x1="508" y1="462.5" x2="537.5" y2="462.5" stroke="#7a2ec8" stroke-width="1.2" />
<polygon points="512,458.5 512,465.5 520,458.5 520,465.5" fill="#111" stroke="#111" stroke-width="0.8" />
<line x1="705" y1="278.5" x2="829" y2="278.5" stroke="#2a6cc0" stroke-width="1.1" />
<polyline points="498.5,337.5 498.5,319.5 699,319.5" fill="none" stroke="#2a6cc0" stroke-width="1.1" />
<polyline points="469.5,410 469.5,337.5 474,337.5" fill="none" stroke="#2a6cc0" stroke-width="1.1" />
<line x1="482.5" y1="337.5" x2="646.5" y2="337.5" stroke="#2a6cc0" stroke-width="1.1" />
<rect x="474" y="335" width="8.5" height="5" fill="#fff" stroke="#111" stroke-width="0.9"/>
<line x1="474" y1="340" x2="482.5" y2="335" stroke="#111" stroke-width="0.6" />
<circle cx="517" cy="327.5" r="6" fill="#fffff0" stroke="#444" stroke-width="0.8"/>
<line x1="517" y1="333.5" x2="517" y2="337.5" stroke="#444" stroke-width="0.7" />
<text x="517" y="327" font-size="4" fill="#444" text-anchor="middle" >PL</text>
<text x="517" y="331" font-size="3.5" fill="#444" text-anchor="middle" >7.1</text>
<polygon points="467,359.5 472,359.5 467,366.5 472,366.5" fill="#fff" stroke="#111" stroke-width="0.9" />
<polyline points="566.5,337.5 566.5,512.5 672,512.5" fill="none" stroke="#2a6cc0" stroke-width="1.1" />
<polyline points="646.5,337.5 646.5,491.5 672,491.5" fill="none" stroke="#2a6cc0" stroke-width="1.1" />
<polygon points="672,491.5 677,488 694,488 694,495 677,495" fill="#fff" stroke="#555" stroke-width="0.8" />
<polygon points="672,512.5 677,509 694,509 694,516 677,516" fill="#fff" stroke="#555" stroke-width="0.8" />
<line x1="566.5" y1="337.5" x2="566.5" y2="432" stroke="#2a6cc0" stroke-width="1.1" />
<polygon points="564,344.5 569,344.5 564,351.5 569,351.5" fill="#fff" stroke="#333" stroke-width="0.9" />
<rect x="563.5" y="359" width="6" height="12" fill="#fff" stroke="none" stroke-width="0"/>
<text x="569" y="365" font-size="6" fill="#333" text-anchor="middle" textLength="11" lengthAdjust="spacingAndGlyphs" transform="rotate(-90 569 365)" >A7.1</text>
<line x1="564" y1="368" x2="569" y2="368" stroke="#333" stroke-width="0.8" />
<polygon points="563.5,376.5 569.5,376.5 563.5,385.5 569.5,385.5" fill="#fff" stroke="#111" stroke-width="0.9" />
<circle cx="566.5" cy="396.5" r="1.2" fill="#111" stroke="#111" stroke-width="0.5"/>
<line x1="566.5" y1="396.5" x2="579.5" y2="396.5" stroke="#111" stroke-width="1" />
<polygon points="576.5,393 583.5,397 579.5,400" fill="#111" stroke="#111" stroke-width="0.5" />
<polyline points="584.5,397 585.5,394 586.5,397 587.5,394 588.5,397 589.5,394 590.5,397" fill="none" stroke="#333" stroke-width="0.7" />
<rect x="556.5" y="406.5" width="50" height="74.5" fill="none" stroke="#111" stroke-width="1.1"/>
<circle cx="566.5" cy="440" r="8" fill="#fff" stroke="#3a3a3a" stroke-width="0.9"/>
<path d="M562.5 433 Q 565.5 440 562.5 447 M570.5 433 Q 567.5 440 570.5 447" fill="none" stroke="#222" stroke-width="0.8"/>
<line x1="566.5" y1="448" x2="566.5" y2="481" stroke="#2a6cc0" stroke-width="1.1" />
<line x1="646.5" y1="337.5" x2="646.5" y2="432" stroke="#2a6cc0" stroke-width="1.1" />
<polygon points="644,344.5 649,344.5 644,351.5 649,351.5" fill="#fff" stroke="#333" stroke-width="0.9" />
<rect x="643.5" y="359" width="6" height="12" fill="#fff" stroke="none" stroke-width="0"/>
<text x="649" y="365" font-size="6" fill="#333" text-anchor="middle" textLength="11" lengthAdjust="spacingAndGlyphs" transform="rotate(-90 649 365)" >A7.1</text>
<line x1="644" y1="368" x2="649" y2="368" stroke="#333" stroke-width="0.8" />
<polygon points="643.5,376.5 649.5,376.5 643.5,385.5 649.5,385.5" fill="#fff" stroke="#111" stroke-width="0.9" />
<circle cx="646.5" cy="396.5" r="1.2" fill="#111" stroke="#111" stroke-width="0.5"/>
<line x1="646.5" y1="396.5" x2="659.5" y2="396.5" stroke="#111" stroke-width="1" />
<polygon points="656.5,393 663.5,397 659.5,400" fill="#111" stroke="#111" stroke-width="0.5" />
<polyline points="664.5,397 665.5,394 666.5,397 667.5,394 668.5,397 669.5,394 670.5,397" fill="none" stroke="#333" stroke-width="0.7" />
<rect x="635.5" y="406.5" width="50" height="74.5" fill="none" stroke="#111" stroke-width="1.1"/>
<circle cx="646.5" cy="440" r="8" fill="#fff" stroke="#3a3a3a" stroke-width="0.9"/>
<path d="M642.5 433 Q 645.5 440 642.5 447 M650.5 433 Q 647.5 440 650.5 447" fill="none" stroke="#222" stroke-width="0.8"/>
<line x1="646.5" y1="448" x2="646.5" y2="481" stroke="#2a6cc0" stroke-width="1.1" />
<text x="577" y="463.5" font-size="10" fill="#555" textLength="18" lengthAdjust="spacingAndGlyphs" >B6.1</text>
<line x1="577" y1="465.5" x2="595" y2="465.5" stroke="#666" stroke-width="0.8" />
<polyline points="577,465.5 568,448" fill="none" stroke="#444" stroke-width="0.8" />
<text x="657" y="463.5" font-size="10" fill="#555" textLength="19" lengthAdjust="spacingAndGlyphs" >B6.2</text>
<line x1="657" y1="465.5" x2="676" y2="465.5" stroke="#666" stroke-width="0.8" />
<polyline points="657,465.5 648,448" fill="none" stroke="#444" stroke-width="0.8" />
<text x="667" y="528.5" font-size="9" fill="#3a3a3a" textLength="26" lengthAdjust="spacing" >Забор</text>
<text x="667" y="538.5" font-size="9" fill="#3a3a3a" textLength="30" lengthAdjust="spacingAndGlyphs" >воздуха</text>
<text x="667" y="549.5" font-size="9" fill="#3a3a3a" textLength="30" lengthAdjust="spacingAndGlyphs" >с  улицы</text>
<circle cx="754.5" cy="289.5" r="9" fill="#fff" stroke="#3a3a3a" stroke-width="0.9"/>
<text x="754.5" y="293" font-size="9" fill="#3a3a3a" text-anchor="middle" >3</text>
<text x="771" y="293.5" font-size="9.5" fill="#3a3a3a" textLength="105" lengthAdjust="spacing" >Блок  биологической</text>
<polyline points="829,325 826,325 826,336.5" fill="none" stroke="#a01818" stroke-width="2" />
<text x="829.5" y="351" font-size="9.5" fill="#3a3a3a" text-anchor="middle" textLength="27" lengthAdjust="spacing" transform="rotate(-90 829.5 351)" >K5.3H</text>
<line x1="826" y1="366" x2="826" y2="380" stroke="#a01818" stroke-width="2" />
<polygon points="823.5,378 828.5,378 826,384" fill="#111" stroke="#111" stroke-width="0.5" />
<polyline points="829,551 826,551 826,562" fill="none" stroke="#a01818" stroke-width="2" />
<text x="829.5" y="577" font-size="9.5" fill="#3a3a3a" text-anchor="middle" textLength="27" lengthAdjust="spacing" transform="rotate(-90 829.5 577)" >K5.3H</text>
<line x1="826" y1="593" x2="826" y2="600" stroke="#a01818" stroke-width="2" />
<rect x="808.5" y="593.5" width="10" height="10" fill="none" stroke="#111" stroke-width="1.1"/>
<line x1="808.5" y1="367.5" x2="808.5" y2="453.5" stroke="#111" stroke-width="1.2" />
<line x1="808.5" y1="367.5" x2="818.5" y2="367.5" stroke="#111" stroke-width="1.2" />
<line x1="818.5" y1="367.5" x2="818.5" y2="453.5" stroke="#111" stroke-width="1.2" />
<line x1="818.5" y1="453.5" x2="829" y2="453.5" stroke="#111" stroke-width="1.2" />
<line x1="821" y1="451" x2="829" y2="451" stroke="#2a6cc0" stroke-width="2" />
<polyline points="769.5,600 769.5,376.5 804,376.5" fill="none" stroke="#4a3a22" stroke-width="1.1" />
<polygon points="804.5,374.75 804.5,378.25 808.5,376.5" fill="#111" stroke="#111" stroke-width="0.5" />
<polyline points="765.5,600 765.5,393.5 804,393.5" fill="none" stroke="#4a3a22" stroke-width="1.1" />
<polygon points="804.5,391.75 804.5,395.25 808.5,393.5" fill="#111" stroke="#111" stroke-width="0.5" />
<polygon points="774,374 774,379 782,374 782,379" fill="#fff" stroke="#555" stroke-width="0.7" />
<polygon points="788,373.5 797,373.5 797,379 788,379" fill="#fff" stroke="#333" stroke-width="0.7" />
<polygon points="788,373.5 797,379 788,379" fill="#111" stroke="#111" stroke-width="0.5" />
<text x="778" y="387.5" font-size="9.5" fill="#111" >FI</text>
<text x="787" y="387.5" font-size="9.5" fill="#555" textLength="17" lengthAdjust="spacingAndGlyphs" >S4.1</text>
<text x="774" y="413.5" font-size="9.5" fill="#555" textLength="40" lengthAdjust="spacing" >M4.1.2÷3</text>
<line x1="774" y1="415.5" x2="814" y2="415.5" stroke="#666" stroke-width="0.8" />
<polyline points="814,415.5 829,424" fill="none" stroke="#444" stroke-width="0.8" />
<text x="780" y="423.5" font-size="9.5" fill="#555" textLength="27" lengthAdjust="spacingAndGlyphs" >M4.1.1</text>
<line x1="780" y1="425.5" x2="807" y2="425.5" stroke="#666" stroke-width="0.8" />
<polyline points="807,425.5 820,430" fill="none" stroke="#444" stroke-width="0.8" />
<circle cx="824.5" cy="432.5" r="4.5" fill="#fff" stroke="#333" stroke-width="0.8"/>
<text x="824.5" y="435" font-size="6" fill="#333" text-anchor="middle" >M</text>
<polyline points="750.5,600 750.5,441.5 818.5,441.5" fill="none" stroke="#7a2ec8" stroke-width="1.2" />
<polygon points="754,438 754,445 762,438 762,445" fill="#111" stroke="#111" stroke-width="0.8" />
<rect x="786" y="436" width="16" height="11" fill="#fff" stroke="none" stroke-width="0"/>
<line x1="786.5" y1="437" x2="786.5" y2="446" stroke="#111" stroke-width="1" />
<text x="788" y="445.5" font-size="10.5" fill="#555" textLength="14" lengthAdjust="spacingAndGlyphs" >K6.6</text>
<line x1="772" y1="500.5" x2="812" y2="500.5" stroke="#7a2ec8" stroke-width="1.2" />
<line x1="813" y1="496" x2="813" y2="505" stroke="#111" stroke-width="1" />
<text x="814" y="504.5" font-size="10.5" fill="#555" textLength="15" lengthAdjust="spacingAndGlyphs" >K6.6</text>
<polyline points="829,515.5 745.5,515.5 745.5,600" fill="none" stroke="#2a6cc0" stroke-width="1.1" />
</svg></body></html>
